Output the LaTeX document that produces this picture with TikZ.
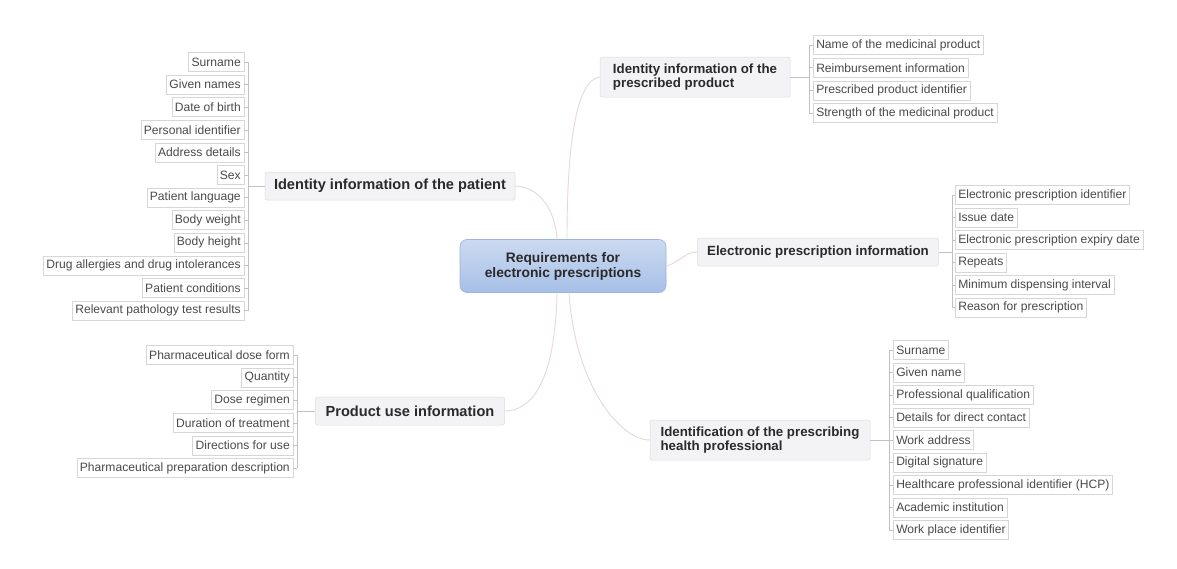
\documentclass[tikz,border=0pt]{standalone}
\usepackage{fontspec}
\setmainfont{Liberation Sans}
\definecolor{conn}{HTML}{E6D9D5}
\definecolor{leafline}{HTML}{D6D6D6}
\definecolor{branchfill}{HTML}{F3F3F6}
\definecolor{branchdraw}{HTML}{DCDCE2}
\definecolor{ctop}{HTML}{CCDAF0}
\definecolor{cbot}{HTML}{A6BFE8}
\definecolor{cdraw}{HTML}{9CB3DC}
\definecolor{txt}{HTML}{2A2A2A}
\tikzset{
  leaf/.style={draw=leafline, line width=0.5pt, fill=white, inner xsep=3pt, inner ysep=0pt,
    minimum height=19pt, font=\fontsize{12.1}{14}\selectfont, text=txt!85},
  leafL/.style={leaf, anchor=east},
  leafR/.style={leaf, anchor=west},
  branch/.style={draw=branchdraw, line width=0.5pt, fill=branchfill, rounded corners=2pt,
    font=\fontsize{13.3}{14.5}\bfseries\selectfont, text=txt, inner xsep=7pt, align=left},
  bigbranch/.style={branch, font=\fontsize{14.6}{16}\bfseries\selectfont},
  central/.style={draw=cdraw, line width=0.6pt, top color=ctop, bottom color=cbot, rounded corners=7pt,
    font=\fontsize{13.8}{15}\bfseries\selectfont, text=txt, align=center, minimum width=206pt, minimum height=53pt},
  conn/.style={draw=conn, line width=0.9pt},
  tree/.style={draw=leafline!90!black, line width=0.6pt}
}
\begin{document}
\begin{tikzpicture}[x=1pt,y=-1pt]
\useasboundingbox[fill=white] (0,0) rectangle (1177,568);

% central
\node[central] (c) at (563,266) {Requirements for\\electronic prescriptions};

% branches
\node[bigbranch, minimum width=250pt, minimum height=28pt] (pat) at (390,186) {Identity information of the patient};
\node[branch, minimum width=190pt, minimum height=40pt] (prod) at (695,77) {Identity information of the\\prescribed product};
\node[branch, minimum width=241pt, minimum height=28pt] (elec) at (818,252) {Electronic prescription information};
\node[bigbranch, minimum width=189pt, minimum height=28pt] (use) at (410,411) {Product use information};
\node[branch, minimum width=220pt, minimum height=40pt] (hcp) at (760,440) {Identification of the prescribing\\health professional};

% central connectors
\draw[conn] ([xshift=4pt]c.north) .. controls (567,150) and (575,80) .. (prod.west);
\draw[conn] ([xshift=-6pt]c.north) .. controls (555,205) and (535,186) .. (pat.east);
\draw[conn] (c.east) .. controls (680,262) and (685,252) .. (elec.west);
\draw[conn] ([xshift=-6pt]c.south) .. controls (555,385) and (530,411) .. (use.east);
\draw[conn] ([xshift=6pt]c.south) .. controls (575,385) and (620,440) .. (hcp.west);

% patient leaves
\coordinate (pb) at (248,186);
\foreach \t [count=\i] in {Surname,Given names,Date of birth,Personal identifier,Address details,Sex,Patient language,Body weight,Body height,Drug allergies and drug intolerances,Patient conditions,Relevant pathology test results}{
  \node[leafL] (pl\i) at (244,{62+(\i-1)*22.6}) {\t};
  \draw[tree] (pl\i.east) -- (pl\i.east -| pb);
}
\draw[tree] (pl1.east -| pb) -- (pl12.east -| pb);
\draw[tree] (pat.west) -- (pb);

% prescribed product leaves
\coordinate (rb) at (809,77);
\foreach \t [count=\i] in {Name of the medicinal product,Reimbursement information,Prescribed product identifier,Strength of the medicinal product}{
  \node[leafR] (rl\i) at (813,{45+(\i-1)*22.7}) {\t};
  \draw[tree] (rl\i.west) -- (rl\i.west -| rb);
}
\draw[tree] (rl1.west -| rb) -- (rl4.west -| rb);
\draw[tree] (prod.east) -- (rb);

% electronic prescription leaves
\coordinate (eb) at (952,252);
\foreach \t [count=\i] in {Electronic prescription identifier,Issue date,Electronic prescription expiry date,Repeats,Minimum dispensing interval,Reason for prescription}{
  \node[leafR] (el\i) at (955,{195+(\i-1)*22.5}) {\t};
  \draw[tree] (el\i.west) -- (el\i.west -| eb);
}
\draw[tree] (el1.west -| eb) -- (el6.west -| eb);
\draw[tree] (elec.east) -- (eb);

% product use leaves
\coordinate (ub) at (297,411);
\foreach \t [count=\i] in {Pharmaceutical dose form,Quantity,Dose regimen,Duration of treatment,Directions for use,Pharmaceutical preparation description}{
  \node[leafL] (ul\i) at (293,{355+(\i-1)*22.6}) {\t};
  \draw[tree] (ul\i.east) -- (ul\i.east -| ub);
}
\draw[tree] (ul1.east -| ub) -- (ul6.east -| ub);
\draw[tree] (use.west) -- (ub);

% health professional leaves
\coordinate (hb) at (889,440);
\foreach \t [count=\i] in {Surname,Given name,Professional qualification,Details for direct contact,Work address,Digital signature,Healthcare professional identifier (HCP),Academic institution,Work place identifier}{
  \node[leafR] (hl\i) at (893,{350+(\i-1)*22.5}) {\t};
  \draw[tree] (hl\i.west) -- (hl\i.west -| hb);
}
\draw[tree] (hl1.west -| hb) -- (hl9.west -| hb);
\draw[tree] (hcp.east) -- (hb);
\end{tikzpicture}
\end{document}
